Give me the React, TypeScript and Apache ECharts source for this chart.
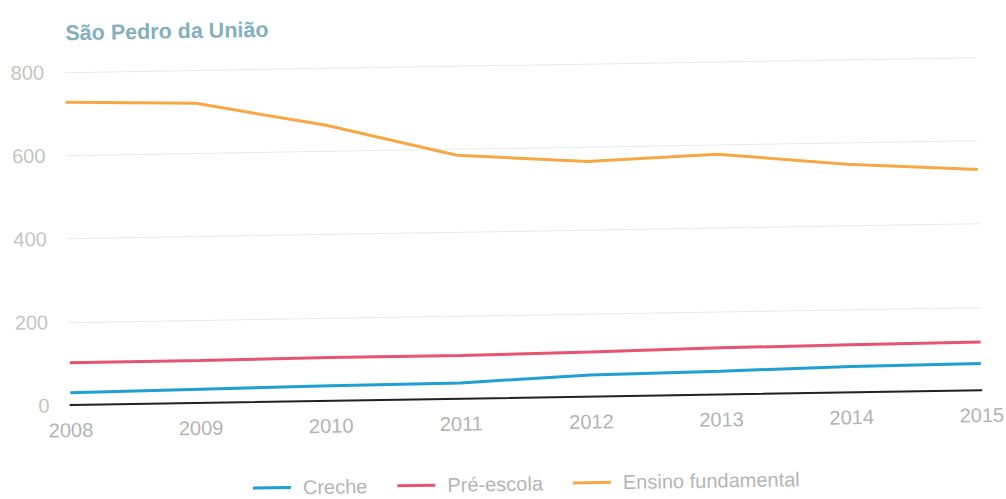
import React, { useEffect, useRef } from "react";
import * as echarts from "echarts";

const years = ["2008", "2009", "2010", "2011", "2012", "2013", "2014", "2015"];
const creche = [30, 33, 36, 38, 52, 56, 62, 64];
const preEscola = [102, 102, 104, 104, 107, 112, 114, 116];
const ensinoFundamental = [728, 720, 662, 585, 565, 577, 548, 530];
const seriesNames = ["Creche", "Pré-escola", "Ensino fundamental"];
const seriesColors = ["#1f9fd2", "#e8536f", "#f5a843"];

export default function App() {
  const ref = useRef<HTMLDivElement>(null);
  useEffect(() => {
    if (!ref.current) return;
    const chart = echarts.init(ref.current, undefined, { renderer: "svg" });
    const data = [creche, preEscola, ensinoFundamental];
    chart.setOption({
      animation: false,
      backgroundColor: "#ffffff",
      title: {
        text: "São Pedro da União",
        left: 64,
        top: 10,
        textStyle: {
          fontFamily: "Liberation Sans",
          fontSize: 21.5,
          fontWeight: "bold",
          color: "#84afbe",
        },
      },
      legend: {
        left: 244,
        top: 469,
        icon: "rect",
        itemWidth: 38,
        itemHeight: 3,
        itemGap: 30,
        data: seriesNames,
        textStyle: {
          fontFamily: "Liberation Sans",
          fontSize: 20,
          lineHeight: 20,
          color: "#b5b5b5",
          padding: [0, 0, 0, 7],
        },
      },
      grid: { left: 68, right: 27, top: 65, bottom: 101 },
      xAxis: {
        type: "category",
        data: years,
        boundaryGap: false,
        axisLine: { lineStyle: { color: "#222222", width: 2 } },
        axisTick: { show: false },
        axisLabel: {
          fontFamily: "Liberation Sans",
          fontSize: 20,
          color: "#b3b3b3",
          margin: 15,
        },
        splitLine: { show: false },
      },
      yAxis: {
        type: "value",
        min: 0,
        max: 800,
        interval: 200,
        axisLine: { show: false },
        axisTick: { show: false },
        axisLabel: {
          fontFamily: "Liberation Sans",
          fontSize: 20,
          color: "#c2c6c2",
          margin: 21,
        },
        splitLine: { lineStyle: { color: "#e9e9e9", width: 1 } },
      },
      series: seriesNames.map((name, i) => ({
        name,
        type: "line",
        data: data[i],
        symbol: "none",
        smooth: false,
        lineStyle: { color: seriesColors[i], width: 3 },
        itemStyle: { color: seriesColors[i] },
        z: 3,
      })),
    });
    return () => chart.dispose();
  }, []);
  return (
    <div
      ref={ref}
      style={{
        position: "absolute",
        left: 0,
        top: 0,
        width: 1006,
        height: 499,
        transform: "rotate(-0.94deg)",
        transformOrigin: "50% 50%",
      }}
    />
  );
}
